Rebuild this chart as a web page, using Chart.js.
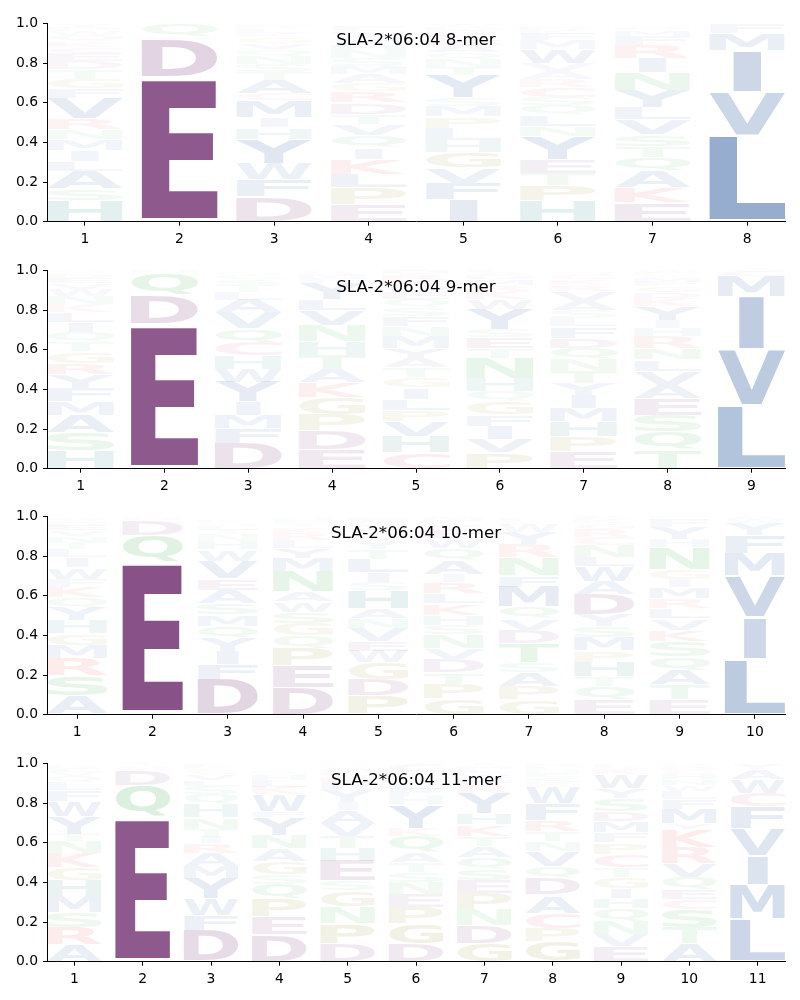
<!DOCTYPE html>
<html>
<head>
<meta charset="utf-8">
<script src="https://cdn.jsdelivr.net/npm/chart.js@4.4.1/dist/chart.umd.min.js"></script>
<style>
  body { margin: 0; background: #fff; }
  #wrap { position: relative; width: 800px; height: 1000px; }
  canvas { position: absolute; left: 0; }
</style>
</head>
<body>
<div id="wrap">
  <canvas id="logo8"></canvas>
  <canvas id="logo9"></canvas>
  <canvas id="logo10"></canvas>
  <canvas id="logo11"></canvas>
</div>
<script>
// Letter stacks per position, bottom to top, with their probabilities
const pos8 = [1, 2, 3, 4, 5, 6, 7, 8];
const seq8 = ['HSALIMNRVFGTDECKQWPY', 'EDNQST', 'DFWYHIMCATSNQVGKLREP', 'EPLKIQVTDRGAMSNHYWCF',
              'IFVGHLPMSYTNQAEKRDWC', 'HPTEYNLQSCRAVWMFKDGI', 'EKAQTSVLYNIRFMDGHW', 'LVIMFC'];
const prob8 = [
  [.105, .06, .09, .05, .055, .055, .05, .055, .10, .05, .05, .05, .04, .04, .03, .03, .03, .02, .02, .015],
  [.728, .19, .015, .064, .001, .001],
  [.127, .085, .08, .125, .058, .05, .085, .035, .07, .04, .04, .04, .035, .03, .03, .02, .02, .012, .012, .002],
  [.088, .083, .07, .075, .058, .06, .058, .05, .058, .058, .04, .045, .04, .04, .04, .03, .03, .025, .02, .02],
  [.11, .085, .078, .078, .06, .06, .058, .055, .04, .115, .04, .04, .035, .035, .03, .025, .02, .015, .01, .01],
  [.105, .078, .062, .07, .115, .05, .058, .05, .04, .05, .04, .04, .04, .07, .045, .035, .02, .015, .01, .007],
  [.095, .078, .083, .068, .055, .06, .075, .062, .088, .09, .072, .065, .045, .03, .015, .01, .005, .004],
  [.434, .22, .21, .085, .045, .005]
];

const pos9 = [1, 2, 3, 4, 5, 6, 7, 8, 9];
const seq9 = ['HSAMFYRGTQILKNWVEDPC', 'EDQNS', 'DFMIYWHCQVALTSGNKREP', 'EDPGKATHNVLYFMRIQS',
              'CHVPLIGTAYMNFSQEWKRD', 'PVIFGQHNTESYWKRMDALC', 'EPHMIYTNQDFLSAVRKGWC',
              'TQSEAVLNRHIYKDGFMCPW', 'LVIMC'];
const prob9 = [
  [.09, .09, .09, .068, .068, .068, .058, .058, .05, .05, .05, .05, .04, .04, .035, .03, .025, .02, .015, .005],
  [.73, .145, .11, .01, .005],
  [.13, .075, .066, .066, .1, .066, .066, .07, .066, .08, .066, .04, .035, .03, .02, .01, .005, .005, .003, .002],
  [.096, .096, .083, .083, .075, .066, .075, .066, .083, .075, .058, .08, .025, .02, .01, .005, .002, .002],
  [.08, .083, .075, .055, .058, .058, .05, .05, .05, .05, .06, .05, .05, .045, .04, .035, .03, .03, .03, .02],
  [.08, .07, .066, .058, .066, .05, .066, .1, .05, .058, .04, .1, .05, .04, .03, .03, .02, .015, .01, .002],
  [.088, .075, .075, .066, .066, .06, .06, .06, .058, .05, .058, .04, .04, .05, .05, .03, .03, .02, .01, .01],
  [.096, .09, .083, .083, .07, .07, .058, .058, .06, .04, .04, .07, .04, .03, .03, .025, .02, .015, .01, .01],
  [.32, .28, .27, .1, .03]
];

const pos10 = [1, 2, 3, 4, 5, 6, 7, 8, 9, 10];
const seq10 = ['ASRMGHYQKFWILTNVEDPC', 'EQDNST', 'DFIYQMSAEVWHNTLGKRCP', 'DEPQGSWANMYLRKTFHICV',
               'PDGWEVNAHSILTYKQMRFC', 'GPTDVNSHKLRIAQWEYFMC', 'GPASTDVQMFNRYWKLHEIC',
               'EQTHPMSYDAWLNCRGKFIV', 'ETAQSKVLRMIGNHYFWDPC', 'LIVMFYWA'];
const prob10 = [
  [.096, .1, .088, .066, .058, .066, .066, .05, .055, .04, .058, .05, .04, .035, .03, .03, .025, .02, .015, .01],
  [.77, .135, .075, .01, .005, .005],
  [.18, .075, .066, .066, .058, .058, .058, .066, .058, .09, .058, .04, .035, .025, .02, .015, .01, .008, .005, .004],
  [.137, .11, .088, .063, .063, .058, .05, .05, .105, .066, .05, .04, .035, .03, .02, .015, .01, .005, .003, .002],
  [.096, .083, .083, .06, .05, .066, .05, .05, .09, .04, .05, .066, .05, .04, .03, .03, .02, .02, .015, .01],
  [.08, .075, .058, .066, .058, .066, .05, .05, .058, .05, .058, .04, .07, .06, .05, .04, .03, .02, .015, .005],
  [.076, .066, .07, .05, .1, .066, .058, .058, .1, .058, .09, .066, .06, .04, .015, .01, .008, .005, .003, .002],
  [.075, .066, .05, .075, .058, .066, .055, .06, .1, .066, .075, .05, .06, .04, .04, .03, .02, .01, .004, .002],
  [.075, .075, .075, .07, .075, .058, .058, .05, .05, .058, .04, .05, .11, .04, .06, .04, .01, .003, .002, .001],
  [.28, .21, .21, .115, .09, .06, .02, .01]
];

const pos11 = [1, 2, 3, 4, 5, 6, 7, 8, 9, 10, 11];
const seq11 = ['ARSMHGKNTYWFLQVEDIPC', 'EQDNST', 'DFWYMARITNHQSLVGKECP', 'DEPQSGANYFWKLHRTMIVC',
               'DPNGSEHTVAIYFKLMQRWC', 'DGPENSTAQKYHFLWRMIVC', 'GDNPESQATKHYRFWLMIVC',
               'GPCAIDQVNTRFWKSEHLMY', 'EVNQHIGTCPFMDSYWKRLA', 'ATSCEQVRKYMFLWNHGDPI', 'LMIVFCWAY'];
const prob11 = [
  [.085, .088, .075, .08, .083, .063, .075, .06, .035, .09, .075, .055, .04, .03, .02, .02, .01, .008, .005, .003],
  [.73, .16, .075, .015, .01, .01],
  [.16, .075, .083, .1, .063, .066, .05, .033, .04, .058, .066, .05, .04, .03, .03, .02, .015, .01, .01, .005],
  [.135, .09, .09, .075, .05, .066, .063, .07, .09, .03, .083, .04, .035, .03, .015, .01, .008, .005, .003, .002],
  [.093, .1, .085, .08, .05, .1, .066, .06, .065, .065, .04, .06, .04, .03, .02, .015, .01, .01, .005, .003],
  [.093, .1, .083, .066, .06, .05, .05, .05, .08, .04, .12, .04, .04, .03, .02, .015, .01, .005, .003, .04],
  [.093, .09, .08, .08, .066, .058, .058, .058, .05, .058, .058, .1, .04, .03, .03, .02, .015, .01, .006, .004],
  [.1, .066, .075, .083, .015, .083, .058, .075, .05, .05, .058, .083, .083, .02, .03, .02, .015, .015, .01, .003],
  [.076, .063, .066, .063, .05, .05, .058, .05, .066, .058, .05, .058, .05, .066, .05, .07, .025, .01, .01, .005],
  [.093, .08, .09, .05, .05, .063, .07, .08, .09, .03, .075, .05, .04, .03, .03, .025, .02, .015, .01, .005],
  [.215, .175, .145, .135, .11, .07, .07, .05, .03]
];

// residue colours (opacity follows probability)
const aaColor = {
  D: [100, 29, 99], E: [100, 29, 99],
  A: [17, 67, 147], V: [17, 67, 147], L: [17, 67, 147], I: [17, 67, 147], M: [17, 67, 147],
  F: [17, 67, 147], W: [17, 67, 147], Y: [17, 67, 147],
  S: [30, 160, 50], T: [30, 160, 50], N: [30, 160, 50], Q: [30, 160, 50],
  K: [220, 40, 40], R: [220, 40, 40],
  H: [0, 100, 100],
  G: [128, 120, 0], P: [128, 120, 0],
  C: [200, 40, 100]
};

const GLYPH_FONT = 'bold 100px "DejaVu Sans"';

function glyphBox(ctx, ch) {
  ctx.font = GLYPH_FONT;
  const m = ctx.measureText(ch);
  return {
    left: m.actualBoundingBoxLeft,
    asc: m.actualBoundingBoxAscent,
    w: m.actualBoundingBoxLeft + m.actualBoundingBoxRight,
    h: m.actualBoundingBoxAscent + m.actualBoundingBoxDescent
  };
}

// stretch the glyph to its box, but never wider than an 'E' would be stretched
function drawGlyph(ctx, ch, left, top, w, h, fill) {
  const g = glyphBox(ctx, ch);
  const e = glyphBox(ctx, 'E');
  const sx = Math.min(w / g.w, w / e.w);
  const sy = h / g.h;
  const gx = left + (w - g.w * sx) / 2;
  ctx.save();
  ctx.translate(gx, top);
  ctx.scale(sx, sy);
  ctx.font = GLYPH_FONT;
  ctx.textAlign = 'left';
  ctx.textBaseline = 'alphabetic';
  ctx.fillStyle = fill;
  ctx.fillText(ch, g.left, g.asc);
  ctx.restore();
}

const logoPlugin = {
  id: 'logoGlyphs',
  afterDatasetsDraw(chart) {
    const ctx = chart.ctx;
    chart.data.datasets.forEach((ds, di) => {
      const meta = chart.getDatasetMeta(di);
      meta.data.forEach((bar, i) => {
        const p = ds.data[i].y;
        const ch = ds.letters[i];
        if (!ch || !p) return;
        const {x, y, base, width} = bar.getProps(['x', 'y', 'base', 'width'], true);
        const h = Math.abs(base - y);
        const pad = 0.025 * h;
        const c = aaColor[ch];
        drawGlyph(ctx, ch, x - width / 2, Math.min(y, base) + pad, width, h - 2 * pad,
                  'rgba(' + c[0] + ',' + c[1] + ',' + c[2] + ',' + p + ')');
      });
    });
  },
  afterDraw(chart) {
    const ctx = chart.ctx;
    const area = chart.chartArea;
    ctx.save();
    ctx.font = '16.67px "DejaVu Sans"';
    ctx.fillStyle = '#000';
    ctx.textAlign = 'center';
    ctx.textBaseline = 'alphabetic';
    ctx.fillText(chart.options.plugins.logoGlyphs.title, (area.left + area.right) / 2, area.top + 22);
    ctx.restore();
  }
};

function makeLogo(id, title, positions, seqs, probs, row) {
  const canvas = document.getElementById(id);
  const areaTop = 20 + 246.67 * row;
  canvas.width = 800;
  canvas.height = 240;
  canvas.style.width = '800px';
  canvas.style.height = '240px';
  canvas.style.top = (areaTop - 10) + 'px';

  const depth = Math.max(...probs.map(p => p.length));
  const datasets = [];
  for (let r = 0; r < depth; r++) {
    datasets.push({
      data: positions.map((x, i) => ({x: x, y: probs[i][r] || 0})),
      letters: positions.map((x, i) => seqs[i][r]),
      backgroundColor: 'rgba(0,0,0,0)',
      borderWidth: 0
    });
  }

  new Chart(canvas, {
    type: 'bar',
    data: { datasets: datasets },
    plugins: [logoPlugin],
    options: {
      responsive: false,
      animation: false,
      categoryPercentage: 0.8,
      barPercentage: 1,
      layout: { padding: { top: 10, right: 15, left: 0, bottom: 0 } },
      plugins: {
        legend: { display: false },
        tooltip: { enabled: false },
        logoGlyphs: { title: title }
      },
      scales: {
        x: {
          type: 'linear',
          stacked: true,
          offset: false,
          min: positions[0] - 0.4,
          max: positions[positions.length - 1] + 0.4,
          afterBuildTicks: axis => { axis.ticks = positions.map(v => ({value: v})); },
          afterFit: axis => { axis.height = 240 - 10 - 201.7; },
          grid: { offset: false, drawOnChartArea: false, drawTicks: true, tickLength: 4, color: '#000' },
          border: { color: '#000', width: 1 },
          ticks: { color: '#000', padding: 5, maxRotation: 0, font: { family: 'DejaVu Sans', size: 13.9 },
                   callback: v => String(v) }
        },
        y: {
          stacked: true,
          min: 0,
          max: 1,
          afterFit: axis => { axis.width = 47; },
          grid: { drawOnChartArea: false, drawTicks: true, tickLength: 4, color: '#000' },
          border: { color: '#000', width: 1 },
          ticks: { color: '#000', padding: 5, stepSize: 0.2, font: { family: 'DejaVu Sans', size: 13.9 },
                   callback: v => v.toFixed(1) }
        }
      }
    }
  });
}

makeLogo('logo8', 'SLA-2*06:04 8-mer', pos8, seq8, prob8, 0);
makeLogo('logo9', 'SLA-2*06:04 9-mer', pos9, seq9, prob9, 1);
makeLogo('logo10', 'SLA-2*06:04 10-mer', pos10, seq10, prob10, 2);
makeLogo('logo11', 'SLA-2*06:04 11-mer', pos11, seq11, prob11, 3);
</script>
</body>
</html>
